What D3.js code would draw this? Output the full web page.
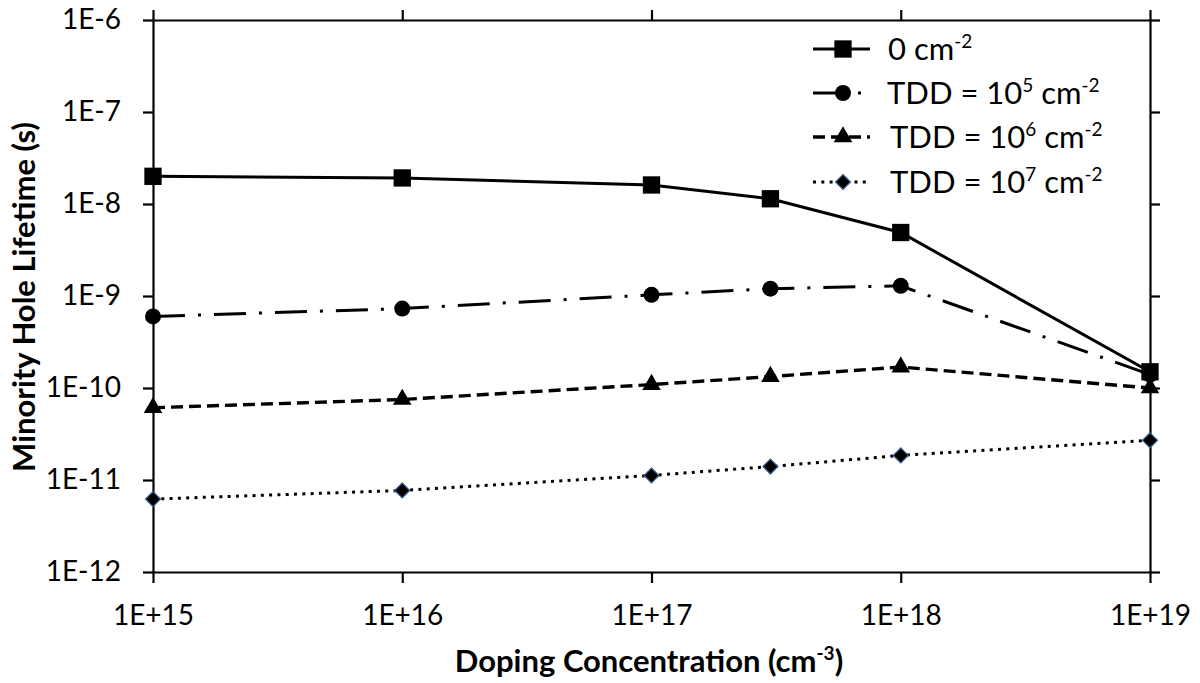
<!DOCTYPE html>
<html>
<head>
<meta charset="utf-8">
<script src="https://cdn.jsdelivr.net/npm/d3@7"></script>
<style>
  html, body { margin: 0; padding: 0; background: #fff; }
  svg { display: block; font-family: Lato, "Open Sans", sans-serif; }
</style>
</head>
<body>
<svg id="chart" width="1200" height="683"></svg>
<script>
// Doping concentration (cm^-3) at which lifetimes were computed
const dopingLevels = [1e15, 1e16, 1e17, 3e17, 1e18, 1e19];

// Minority hole lifetime (s) for each threading dislocation density
const lifetimeTdd0   = [2.0e-8, 1.92e-8, 1.61e-8, 1.14e-8, 4.9e-9, 1.5e-10];
const lifetimeTdd1e5 = [6.0e-10, 7.3e-10, 1.03e-9, 1.2e-9, 1.29e-9, 1.4e-10];
const lifetimeTdd1e6 = [6.1e-11, 7.5e-11, 1.09e-10, 1.33e-10, 1.69e-10, 1.0e-10];
const lifetimeTdd1e7 = [6.2e-12, 7.7e-12, 1.12e-11, 1.4e-11, 1.85e-11, 2.7e-11];

// Legend labels: alternating normal / superscript segments
const legendLabels = [
  ["0 cm", "-2"],
  ["TDD = 10", "5", " cm", "-2"],
  ["TDD = 10", "6", " cm", "-2"],
  ["TDD = 10", "7", " cm", "-2"]
];

// Axis ticks
const xTickValues = [1e15, 1e16, 1e17, 1e18, 1e19];
const xTickLabels = ["1E+15", "1E+16", "1E+17", "1E+18", "1E+19"];
const yTickValues = [1e-12, 1e-11, 1e-10, 1e-9, 1e-8, 1e-7, 1e-6];
const yTickLabels = ["1E-12", "1E-11", "1E-10", "1E-9", "1E-8", "1E-7", "1E-6"];

const seriesValues = [lifetimeTdd0, lifetimeTdd1e5, lifetimeTdd1e6, lifetimeTdd1e7];

// Visual style per series
const styles = [
  { dash: null,          width: 3,   marker: "square" },
  { dash: "32,13,3,13",  width: 3,   marker: "circle" },
  { dash: "12,6",        width: 3.4, marker: "triangle" },
  { dash: "3,5.3",       width: 3,   marker: "diamond" }
];

const svg = d3.select("#chart");
const plot = { left: 153, right: 1150, top: 20, bottom: 572 };

const x = d3.scaleLog().domain([1e15, 1e19]).range([plot.left, plot.right]);
const y = d3.scaleLog().domain([1e-12, 1e-6]).range([plot.bottom, plot.top]);

// ---- Axes ----
function styleAxis(g) {
  g.selectAll("path.domain").attr("stroke", "#000").attr("stroke-width", 2.2);
  g.selectAll(".tick line").attr("stroke", "#000").attr("stroke-width", 2.2);
  g.selectAll(".tick text").attr("fill", "#000").style("font-size", "28px")
    .style("font-family", "Lato, 'Open Sans', sans-serif");
}

svg.append("g")
  .attr("transform", `translate(0,${plot.bottom})`)
  .call(d3.axisBottom(x).tickValues(xTickValues)
    .tickFormat((d, i) => xTickLabels[i]).tickSize(11).tickSizeOuter(0).tickPadding(22))
  .call(styleAxis);

svg.append("g")
  .attr("transform", `translate(0,${plot.top})`)
  .call(d3.axisTop(x).tickValues(xTickValues).tickFormat("").tickSize(10).tickSizeOuter(0))
  .call(styleAxis);

svg.append("g")
  .attr("transform", `translate(${plot.left},0)`)
  .call(d3.axisLeft(y).tickValues(yTickValues)
    .tickFormat((d, i) => yTickLabels[i]).tickSize(10).tickSizeOuter(0).tickPadding(22))
  .call(styleAxis);

svg.append("g")
  .attr("transform", `translate(${plot.right},0)`)
  .call(d3.axisRight(y).tickValues(yTickValues).tickFormat("").tickSize(10).tickSizeOuter(0))
  .call(styleAxis);

// ---- Axis titles ----
const xTitle = svg.append("text")
  .attr("x", 649).attr("y", 672)
  .attr("text-anchor", "middle")
  .style("font-weight", "bold").style("font-size", "31px");
xTitle.append("tspan").text("Doping Concentration (cm");
xTitle.append("tspan").text("-3").style("font-size", "19px").attr("dy", -12);
xTitle.append("tspan").text(")").attr("dy", 12);

svg.append("text")
  .attr("transform", "translate(35,297) rotate(-90)")
  .attr("text-anchor", "middle")
  .style("font-weight", "bold").style("font-size", "31px")
  .text("Minority Hole Lifetime (s)");

// ---- Markers ----
const diamondShape = {
  draw(ctx, size) {
    const r = Math.sqrt(size / 2);
    ctx.moveTo(0, -r); ctx.lineTo(r, 0); ctx.lineTo(0, r); ctx.lineTo(-r, 0); ctx.closePath();
  }
};
const symbolTypes = {
  square: d3.symbolSquare,
  circle: d3.symbolCircle,
  triangle: d3.symbolTriangle,
  diamond: diamondShape
};
const symbolSizes = { square: 300, circle: 200, triangle: 150, diamond: 112 };

function drawMarker(g, kind, cx, cy) {
  const sym = d3.symbol().type(symbolTypes[kind]).size(symbolSizes[kind]);
  const p = g.append("path")
    .attr("d", sym())
    .attr("transform", `translate(${cx},${cy})`)
    .attr("fill", "#000");
  if (kind === "diamond") p.attr("stroke", "#3b5f95").attr("stroke-width", 1.2);
}

// ---- Series lines ----
const line = d3.line().x(d => x(d[0])).y(d => y(d[1]));

seriesValues.forEach((vals, si) => {
  const pts = dopingLevels.map((d, i) => [d, vals[i]]);
  const st = styles[si];
  const path = svg.append("path")
    .attr("d", line(pts))
    .attr("fill", "none")
    .attr("stroke", "#000")
    .attr("stroke-width", st.width);
  if (st.dash) path.attr("stroke-dasharray", st.dash);
});

seriesValues.forEach((vals, si) => {
  const g = svg.append("g");
  dopingLevels.forEach((d, i) => drawMarker(g, styles[si].marker, x(d), y(vals[i])));
});

// ---- Legend ----
const legend = svg.append("g");
const legendRowY = [49, 93, 137, 182];
const legendTextX = [888, 887, 890, 890];

legendLabels.forEach((segs, i) => {
  const st = styles[i];
  const ly = legendRowY[i];
  const ln = legend.append("line")
    .attr("x1", 813).attr("x2", 870).attr("y1", ly).attr("y2", ly)
    .attr("stroke", "#000").attr("stroke-width", st.width);
  if (st.dash) ln.attr("stroke-dasharray", st.dash);
  drawMarker(legend, st.marker, 843, ly);

  const t = legend.append("text")
    .attr("x", legendTextX[i]).attr("y", ly + 11)
    .style("font-size", "31px").attr("fill", "#000");
  let raised = false;
  segs.forEach((s, k) => {
    const sup = k % 2 === 1;
    const ts = t.append("tspan").text(s);
    if (sup) {
      ts.style("font-size", "19px").attr("dy", -12);
      raised = true;
    } else if (raised) {
      ts.attr("dy", 12);
      raised = false;
    }
  });
});
</script>
</body>
</html>
